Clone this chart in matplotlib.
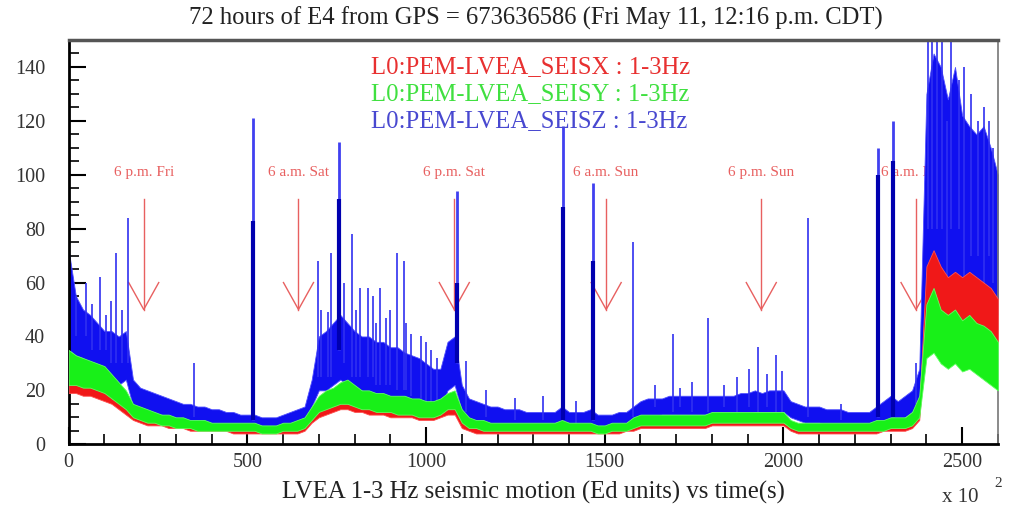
import numpy as np
import matplotlib
matplotlib.use("Agg")
import matplotlib.pyplot as plt
from matplotlib.ticker import MultipleLocator

plt.rcParams['font.family'] = ['Liberation Serif', 'DejaVu Serif']

# time grid, units of 100 s
t = np.arange(0, 2601, 20)

blue_lo = [35, 33, 32, 30, 28, 27, 25, 22, 24, 14, 13, 12, 11, 11, 10, 9, 9, 8, 8, 8,
           7, 7, 7, 6, 6, 6, 6, 5, 5, 6, 6, 7, 7, 8, 14, 20, 20, 22, 24, 22,
           20, 20, 19, 18, 18, 17, 17, 16, 16, 15, 14, 13, 13, 20, 22, 12, 9, 8, 8, 7,
           7, 7, 7, 6, 6, 6, 6, 6, 6, 7, 6, 6, 6, 6, 5, 5, 6, 6, 7, 8,
           10, 10, 10, 11, 11, 11, 11, 11, 11, 11, 11, 11, 11, 11, 11, 11, 12, 12, 12, 12,
           12, 10, 9, 8, 8, 8, 7, 7, 7, 7, 7, 7, 7, 8, 8, 9, 9, 10, 12, 16,
           60, 66, 60, 56, 58, 56, 58, 56, 54, 52, 48]
blue_hi = [72, 55, 50, 48, 45, 42, 42, 40, 42, 24, 21, 20, 19, 18, 17, 16, 15, 15, 14, 14,
           13, 13, 12, 12, 11, 11, 11, 10, 10, 10, 11, 12, 13, 14, 24, 40, 42, 45, 48, 45,
           42, 40, 40, 38, 38, 36, 36, 34, 33, 32, 30, 28, 28, 38, 40, 22, 17, 16, 15, 14,
           14, 13, 13, 13, 12, 12, 12, 12, 12, 14, 12, 12, 12, 13, 11, 11, 11, 12, 12, 14,
           16, 17, 17, 17, 18, 18, 18, 18, 18, 18, 18, 18, 18, 18, 19, 19, 20, 19, 20, 20,
           20, 16, 15, 14, 14, 14, 13, 13, 13, 12, 12, 12, 12, 14, 16, 18, 16, 18, 20, 28,
           130, 145, 140, 128, 140, 122, 118, 115, 118, 110, 100]

green_lo = [22, 22, 21, 21, 20, 19, 17, 15, 13, 10, 9, 8, 8, 7, 7, 6, 6, 6, 5, 5,
            5, 5, 5, 5, 5, 5, 5, 4, 4, 4, 5, 5, 5, 6, 9, 12, 13, 14, 15, 15,
            14, 13, 13, 12, 12, 12, 11, 11, 11, 10, 10, 10, 11, 13, 13, 8, 6, 6, 5, 5,
            5, 5, 5, 5, 5, 5, 5, 5, 5, 5, 5, 5, 5, 5, 4, 4, 5, 5, 5, 6,
            7, 7, 7, 7, 7, 7, 7, 7, 7, 7, 8, 8, 8, 8, 8, 8, 8, 8, 8, 8,
            8, 6, 5, 5, 5, 5, 5, 5, 5, 5, 5, 5, 5, 5, 5, 6, 6, 6, 7, 10,
            32, 34, 30, 28, 30, 27, 28, 26, 24, 22, 20]
green_hi = [35, 33, 32, 31, 30, 29, 26, 23, 20, 15, 14, 13, 12, 11, 11, 10, 10, 9, 9, 9,
            8, 8, 8, 8, 8, 8, 8, 7, 7, 7, 8, 8, 9, 10, 14, 18, 20, 21, 23, 24,
            22, 20, 20, 19, 19, 18, 18, 18, 17, 17, 16, 16, 17, 19, 20, 13, 10, 9, 9, 8,
            8, 8, 8, 8, 8, 8, 8, 8, 8, 9, 8, 8, 8, 8, 7, 7, 8, 8, 8, 10,
            11, 11, 11, 11, 11, 11, 11, 11, 11, 11, 12, 12, 12, 12, 12, 12, 12, 12, 12, 12,
            12, 9, 8, 8, 8, 8, 8, 8, 8, 8, 8, 8, 8, 9, 9, 10, 10, 10, 12, 18,
            52, 58, 50, 48, 50, 46, 48, 45, 44, 42, 38]

red_lo = [19, 19, 18, 18, 17, 16, 15, 13, 11, 9, 8, 7, 7, 7, 6, 6, 6, 5, 5, 5,
          5, 5, 5, 4, 4, 4, 4, 4, 4, 4, 4, 4, 4, 5, 8, 10, 11, 12, 13, 13,
          12, 12, 11, 11, 11, 10, 10, 10, 10, 9, 9, 9, 10, 11, 11, 6, 5, 4, 4, 4,
          4, 4, 4, 4, 4, 4, 4, 4, 4, 4, 4, 4, 4, 4, 4, 4, 4, 4, 5, 5,
          6, 6, 6, 6, 6, 6, 6, 6, 6, 6, 7, 7, 7, 7, 7, 7, 7, 7, 7, 7,
          7, 5, 4, 4, 4, 4, 4, 4, 4, 4, 4, 4, 4, 4, 5, 5, 5, 5, 6, 9,
          45, 48, 45, 42, 45, 42, 44, 42, 40, 40, 38]
red_hi = [24, 23, 22, 22, 21, 20, 19, 17, 15, 12, 11, 10, 10, 9, 9, 8, 8, 8, 7, 7,
          7, 7, 7, 6, 6, 6, 6, 6, 6, 6, 6, 6, 6, 7, 12, 14, 15, 16, 18, 20,
          17, 16, 16, 15, 15, 14, 14, 14, 13, 13, 13, 13, 14, 15, 16, 10, 7, 6, 6, 6,
          6, 6, 6, 6, 6, 6, 6, 6, 6, 7, 6, 6, 6, 6, 6, 6, 6, 6, 7, 7,
          9, 9, 9, 9, 9, 9, 9, 9, 9, 9, 10, 10, 10, 10, 10, 10, 10, 10, 10, 10,
          10, 7, 6, 6, 6, 6, 6, 6, 6, 6, 6, 6, 6, 6, 7, 7, 7, 7, 8, 14,
          66, 72, 66, 62, 64, 62, 64, 62, 60, 58, 54]

# spikes on the Z channel: time, foot, top
spike_t = [20, 49, 65, 89, 105, 119, 133, 150, 166, 352,
           697, 705, 727, 733, 770, 792, 805, 814, 837, 852, 860, 872, 888, 900,
           919, 937, 945, 958, 987, 1000, 1015, 1030, 1113, 1168, 1248, 1326, 1420,
           1580, 1640, 1692, 1710, 1745, 1790, 1835, 1871, 1905, 1930, 1955, 1979, 1997,
           2069, 2161, 2371,
           2405, 2415, 2430, 2445, 2458, 2470, 2490, 2505, 2525, 2545, 2560, 2575, 2585]
spike_lo = [40, 40, 35, 35, 35, 30, 30, 30, 30, 10,
            25, 25, 25, 25, 30, 25, 25, 25, 25, 25, 22, 22, 22, 22,
            20, 20, 20, 18, 15, 15, 15, 15, 12, 10, 9, 9, 8,
            10, 14, 12, 14, 12, 12, 14, 12, 14, 12, 14, 12, 12,
            10, 9, 15,
            80, 80, 80, 80, 55, 80, 80, 60, 70, 70, 50, 70, 60]
spike_hi = [55, 60, 52, 62, 48, 53, 71, 50, 84, 30,
            68, 50, 49, 71, 60, 78, 50, 58, 58, 55, 45, 58, 47, 50,
            71, 68, 45, 41, 40, 38, 35, 32, 31, 20, 17, 18, 16,
            75, 22, 41, 21, 23, 47, 22, 25, 28, 36, 26, 33, 27,
            84, 15, 30,
            150, 150, 150, 150, 120, 150, 135, 140, 130, 120, 125, 120, 110]

# big events
event_t = [515, 755, 1087, 1382, 1468, 2265, 2307]
event_lo = [9, 35, 30, 9, 9, 10, 10]
event_hi = [121, 112, 94, 118, 97, 110, 120]
event_core = [83, 91, 60, 88, 68, 100, 105]

arrow_t = [210, 643, 1079, 1504, 1938, 2371]
arrow_labels = ['6 p.m. Fri', '6 a.m. Sat', '6 p.m. Sat', '6 a.m. Sun', '6 p.m. Sun', '6 a.m. Mon']

legend_labels = ['L0:PEM-LVEA_SEISX : 1-3Hz', 'L0:PEM-LVEA_SEISY : 1-3Hz',
                 'L0:PEM-LVEA_SEISZ : 1-3Hz']

RED = '#f01818'
GREEN = '#18f018'
BLUE = '#1010f0'
ARROW = '#e86060'

fig = plt.figure(figsize=(10.1, 5.13), dpi=100)
ax = fig.add_axes([0.068, 0.134, 0.92, 0.788])

# arrows & day labels (under the data)
for xa, lab in zip(arrow_t, arrow_labels):
    ax.plot([xa, xa], [91, 50], color=ARROW, lw=1.0, zorder=1)
    ax.plot([xa - 42, xa, xa + 42], [60, 50, 60], color=ARROW, lw=1.0, zorder=1)
    ax.text(xa, 101, lab, color=ARROW, fontsize=11, ha='center', va='center', zorder=1)

ax.fill_between(t, blue_lo, blue_hi, color=BLUE, lw=0.6, ec='#5050ff', zorder=2)
ax.vlines(spike_t, spike_lo, spike_hi, color='#3030f0', lw=1.2, zorder=2)
ax.vlines(event_t, event_lo, event_hi, color='#4040f0', lw=2.0, zorder=2)
ax.vlines(event_t, event_lo, event_core, color='#0000b0', lw=3.0, zorder=2)
ax.fill_between(t, red_lo, red_hi, color=RED, lw=0.6, ec='#ff5050', zorder=3)
ax.fill_between(t, green_lo, green_hi, color=GREEN, lw=0.6, ec='#60ff60', zorder=4)

for i, (lab, c) in enumerate(zip(legend_labels, ['#e83030', '#40e040', '#4848d0'])):
    ax.text(847, 140 - 10 * i, lab, color=c, fontsize=17.8, ha='left', va='center', zorder=6)

ax.set_xlim(0, 2600)
ax.set_ylim(0, 150)
ax.xaxis.set_major_locator(MultipleLocator(500))
ax.xaxis.set_minor_locator(MultipleLocator(100))
ax.yaxis.set_major_locator(MultipleLocator(20))
ax.yaxis.set_minor_locator(MultipleLocator(5))
ax.tick_params(which='both', direction='in', top=False, right=False, labelsize=14.5,
               labelcolor='#333333')
ax.tick_params(which='major', length=12, width=1.5)
ax.tick_params(which='minor', length=7, width=1.2)
ax.tick_params(axis='x', pad=6)
ax.tick_params(axis='y', pad=17)
for s in ['left', 'bottom']:
    ax.spines[s].set_linewidth(2)
ax.spines['top'].set_linewidth(2.5)
ax.spines['top'].set_color('#555555')
ax.spines['right'].set_linewidth(1.2)
ax.spines['right'].set_color('#777777')

fig.text(0.531, 0.965, '72 hours of E4 from GPS = 673636586 (Fri May 11, 12:16 p.m. CDT)',
         ha='center', va='center', fontsize=17.7, color='#222222')
fig.text(0.528, 0.04, 'LVEA 1-3 Hz seismic motion (Ed units) vs time(s)',
         ha='center', va='center', fontsize=17.8, color='#222222')
fig.text(0.933, 0.03, 'x 10', ha='left', va='center', fontsize=15, color='#333333')
fig.text(0.985, 0.058, '2', ha='left', va='center', fontsize=11, color='#333333')

fig.savefig('out.png', dpi=100)
